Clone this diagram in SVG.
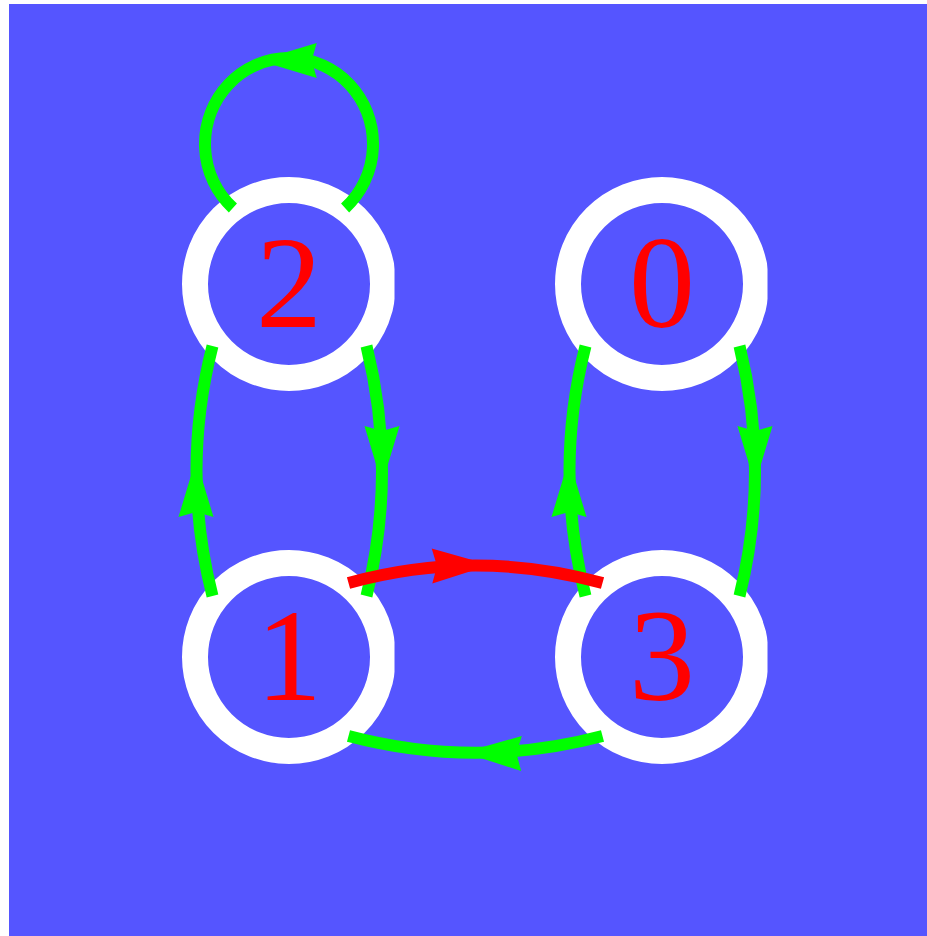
<svg xmlns="http://www.w3.org/2000/svg" xmlns:xlink="http://www.w3.org/1999/xlink" width="927" height="936" viewBox="0 0 927 936">
<defs>
<style>
.ring{fill:none;stroke:#ffffff;stroke-width:26}
.lbl{font-family:"Liberation Serif","Times New Roman",serif;font-size:132px;fill:#ff0000;text-anchor:middle}
.eg{fill:none;stroke:#00ff00;stroke-width:12;stroke-linecap:butt}
.er{fill:none;stroke:#ff0000;stroke-width:12;stroke-linecap:butt}
.hg{fill:#00ff00}
.hr{fill:#ff0000}
</style>
<path id="ah" d="M0,0 L-58,-17.5 L-53,0 L-58,17.5 Z"/>
<clipPath id="cl" clipPathUnits="objectBoundingBox"><rect x="-0.2" y="-0.2" width="1.2612" height="1.4"/></clipPath>
</defs>
<rect x="0" y="0" width="927" height="936" fill="#ffffff"/>
<rect x="9" y="4" width="918" height="932" fill="#5555ff"/>
<g id="node2">
<circle class="ring" cx="289" cy="284" r="94" clip-path="url(#cl)"/>
<text class="lbl" x="289" y="327">2</text>
</g>
<g id="node0">
<circle class="ring" cx="662" cy="284" r="94" clip-path="url(#cl)"/>
<text class="lbl" x="662" y="327">0</text>
</g>
<g id="node1">
<circle class="ring" cx="289" cy="657" r="94" clip-path="url(#cl)"/>
<text class="lbl" x="289" y="700">1</text>
</g>
<g id="node3">
<circle class="ring" cx="662" cy="657" r="94" clip-path="url(#cl)"/>
<text class="lbl" x="662" y="700">3</text>
</g>
<g id="edges">
<path class="eg" d="M232.9,208 A84,86 0 1 1 345.1,208"/>
<use xlink:href="#ah" class="hg" transform="translate(258.7,60.5) rotate(180)"/>
<path class="eg" d="M212.5,596 Q180.5,471 212.5,346"/>
<use xlink:href="#ah" class="hg" transform="translate(196,459) rotate(-90)"/>
<path class="eg" d="M366.5,346 Q397.5,471 366.5,596"/>
<use xlink:href="#ah" class="hg" transform="translate(382,484) rotate(90)"/>
<path class="eg" d="M585.5,596 Q553.5,471 585.5,346"/>
<use xlink:href="#ah" class="hg" transform="translate(569,459) rotate(-90)"/>
<path class="eg" d="M739.5,346 Q770.5,471 739.5,596"/>
<use xlink:href="#ah" class="hg" transform="translate(755,484) rotate(90)"/>
<path class="er" d="M348.5,583 Q475.5,548 602.5,583"/>
<use xlink:href="#ah" class="hr" transform="translate(490,565) rotate(-1)"/>
<path class="eg" d="M602.5,736 Q475.5,769.5 348.5,736"/>
<use xlink:href="#ah" class="hg" transform="translate(463.5,752.5) rotate(181)"/>
</g>
</svg>
